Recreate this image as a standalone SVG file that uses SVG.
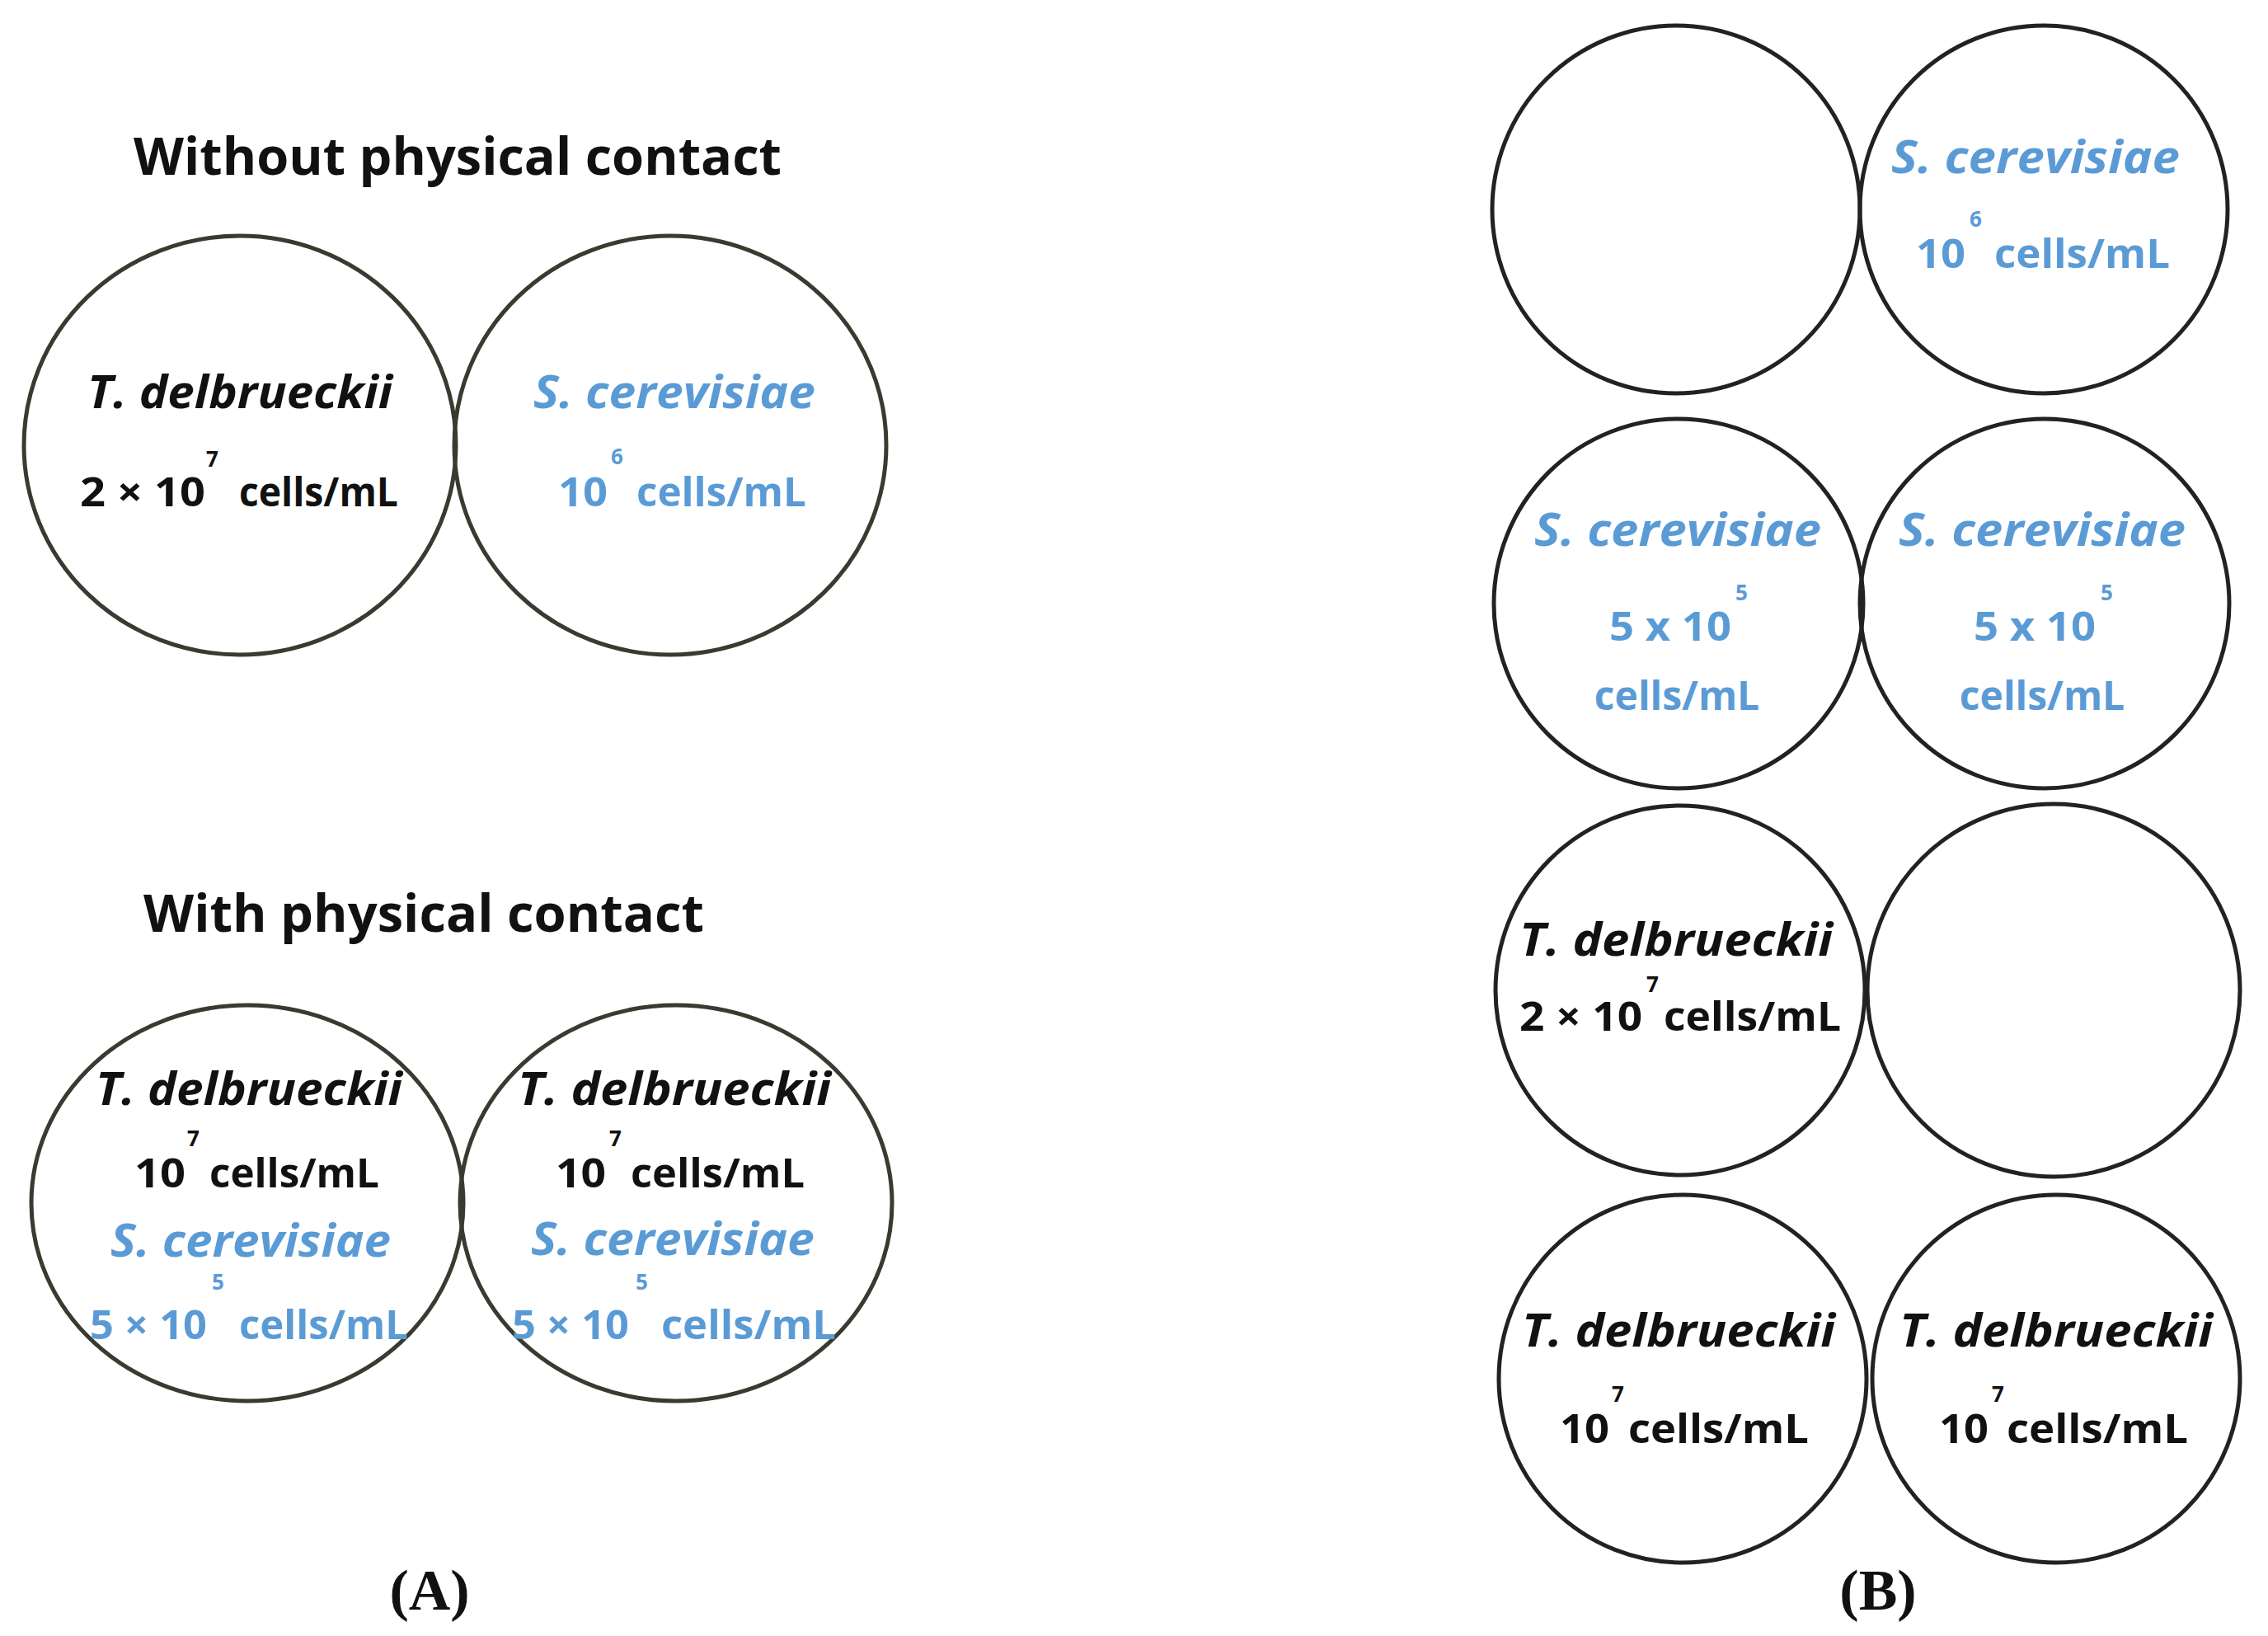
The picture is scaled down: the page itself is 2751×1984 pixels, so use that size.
<svg xmlns="http://www.w3.org/2000/svg" width="2751" height="1984" viewBox="0 0 2751 1984">
<style>
.c{fill:none;stroke:#222;stroke-width:5}
.ca{fill:none;stroke:#3a3a30;stroke-width:5}
.t{font-family:"Open Sans","Liberation Sans",sans-serif;font-weight:bold;text-anchor:middle}
.l{text-anchor:start}
.sp{font-style:italic;font-size:56px}
.n{font-size:48px}
.s{font-size:26px;text-anchor:start}
.k{fill:#111}
.b{fill:#5b9bd5}
.h{font-size:62px;fill:#111}
.lab{font-family:"Liberation Serif",serif;font-weight:bold;font-size:70px;text-anchor:middle;fill:#111}
</style>
<rect width="2751" height="1984" fill="#fff"/>
<g id="panelA">
<text class="t h" x="555" y="212" textLength="786" lengthAdjust="spacingAndGlyphs">Without physical contact</text>
<g id="a1"><ellipse class="ca" cx="291" cy="540" rx="262" ry="254"/>
<text class="t sp k" x="291" y="495" textLength="370" lengthAdjust="spacingAndGlyphs">T. delbrueckii</text>
<text class="t n k l" x="97" y="614" textLength="152" lengthAdjust="spacingAndGlyphs">2 × 10</text>
<text class="t n k l" x="290" y="614" textLength="193" lengthAdjust="spacingAndGlyphs">cells/mL</text>
<text class="t s k" x="250" y="566">7</text></g>
<g id="a2"><ellipse class="ca" cx="813" cy="540" rx="262" ry="254"/>
<text class="t sp b" x="818" y="495" textLength="342" lengthAdjust="spacingAndGlyphs">S. cerevisiae</text>
<text class="t n b l" x="677" y="614" textLength="60" lengthAdjust="spacingAndGlyphs">10</text>
<text class="t n b l" x="772" y="614" textLength="206" lengthAdjust="spacingAndGlyphs">cells/mL</text>
<text class="t s b" x="741" y="563">6</text></g>
<text class="t h" x="514" y="1130" textLength="680" lengthAdjust="spacingAndGlyphs">With physical contact</text>
<g id="a3"><ellipse class="ca" cx="300" cy="1459" rx="262" ry="240"/>
<text class="t sp k" x="302" y="1340" textLength="372" lengthAdjust="spacingAndGlyphs">T. delbrueckii</text>
<text class="t n k l" x="163" y="1440" textLength="62" lengthAdjust="spacingAndGlyphs">10</text>
<text class="t n k l" x="254" y="1440" textLength="206" lengthAdjust="spacingAndGlyphs">cells/mL</text>
<text class="t s k" x="227" y="1390">7</text>
<text class="t sp b" x="304" y="1524" textLength="340" lengthAdjust="spacingAndGlyphs">S. cerevisiae</text>
<text class="t n b l" x="109" y="1624" textLength="142" lengthAdjust="spacingAndGlyphs">5 × 10</text>
<text class="t n b l" x="290" y="1624" textLength="205" lengthAdjust="spacingAndGlyphs">cells/mL</text>
<text class="t s b" x="257" y="1564">5</text></g>
<g id="a4"><ellipse class="ca" cx="820" cy="1459" rx="262" ry="240"/>
<text class="t sp k" x="818" y="1340" textLength="380" lengthAdjust="spacingAndGlyphs">T. delbrueckii</text>
<text class="t n k l" x="674" y="1440" textLength="61" lengthAdjust="spacingAndGlyphs">10</text>
<text class="t n k l" x="765" y="1440" textLength="211" lengthAdjust="spacingAndGlyphs">cells/mL</text>
<text class="t s k" x="739" y="1390">7</text>
<text class="t sp b" x="816" y="1522" textLength="344" lengthAdjust="spacingAndGlyphs">S. cerevisiae</text>
<text class="t n b l" x="621" y="1624" textLength="142" lengthAdjust="spacingAndGlyphs">5 × 10</text>
<text class="t n b l" x="802" y="1624" textLength="212" lengthAdjust="spacingAndGlyphs">cells/mL</text>
<text class="t s b" x="771" y="1564">5</text></g>
<text class="lab" x="521" y="1952">(A)</text>
</g>
<g id="panelB">
<g id="b1"><circle class="c" cx="2033" cy="254" r="223"/></g>
<g id="b2"><circle class="c" cx="2479" cy="254" r="223"/>
<text class="t sp b" x="2469" y="210" textLength="350" lengthAdjust="spacingAndGlyphs">S. cerevisiae</text>
<text class="t n b l" x="2324" y="325" textLength="60" lengthAdjust="spacingAndGlyphs">10</text>
<text class="t n b l" x="2419" y="325" textLength="213" lengthAdjust="spacingAndGlyphs">cells/mL</text>
<text class="t s b" x="2389" y="275">6</text></g>
<g id="b3"><circle class="c" cx="2036" cy="732" r="224"/>
<text class="t sp b" x="2035" y="662" textLength="348" lengthAdjust="spacingAndGlyphs">S. cerevisiae</text>
<text class="t n b" x="2026" y="777" textLength="148" lengthAdjust="spacingAndGlyphs">5 x 10</text>
<text class="t s b" x="2105" y="728">5</text>
<text class="t n b" x="2034" y="861">cells/mL</text></g>
<g id="b4"><circle class="c" cx="2480" cy="732" r="224"/>
<text class="t sp b" x="2477" y="662" textLength="348" lengthAdjust="spacingAndGlyphs">S. cerevisiae</text>
<text class="t n b" x="2468" y="777" textLength="148" lengthAdjust="spacingAndGlyphs">5 x 10</text>
<text class="t s b" x="2548" y="728">5</text>
<text class="t n b" x="2477" y="861">cells/mL</text></g>
<g id="b5"><circle class="c" cx="2038" cy="1201" r="224"/>
<text class="t sp k" x="2033" y="1159" textLength="380" lengthAdjust="spacingAndGlyphs">T. delbrueckii</text>
<text class="t n k l" x="1843" y="1250" textLength="149" lengthAdjust="spacingAndGlyphs">2 × 10</text>
<text class="t n k l" x="2018" y="1250" textLength="215" lengthAdjust="spacingAndGlyphs">cells/mL</text>
<text class="t s k" x="1997" y="1203">7</text></g>
<g id="b6"><circle class="c" cx="2491" cy="1201" r="226"/></g>
<g id="b7"><circle class="c" cx="2041" cy="1672" r="223"/>
<text class="t sp k" x="2036" y="1633" textLength="380" lengthAdjust="spacingAndGlyphs">T. delbrueckii</text>
<text class="t n k l" x="1892" y="1750" textLength="60" lengthAdjust="spacingAndGlyphs">10</text>
<text class="t n k l" x="1975" y="1750" textLength="219" lengthAdjust="spacingAndGlyphs">cells/mL</text>
<text class="t s k" x="1955" y="1700">7</text></g>
<g id="b8"><circle class="c" cx="2494" cy="1672" r="223"/>
<text class="t sp k" x="2494" y="1633" textLength="380" lengthAdjust="spacingAndGlyphs">T. delbrueckii</text>
<text class="t n k l" x="2352" y="1750" textLength="60" lengthAdjust="spacingAndGlyphs">10</text>
<text class="t n k l" x="2434" y="1750" textLength="220" lengthAdjust="spacingAndGlyphs">cells/mL</text>
<text class="t s k" x="2416" y="1700">7</text></g>
<text class="lab" x="2278" y="1952">(B)</text>
</g>
<g id="connectors"/>
</svg>
